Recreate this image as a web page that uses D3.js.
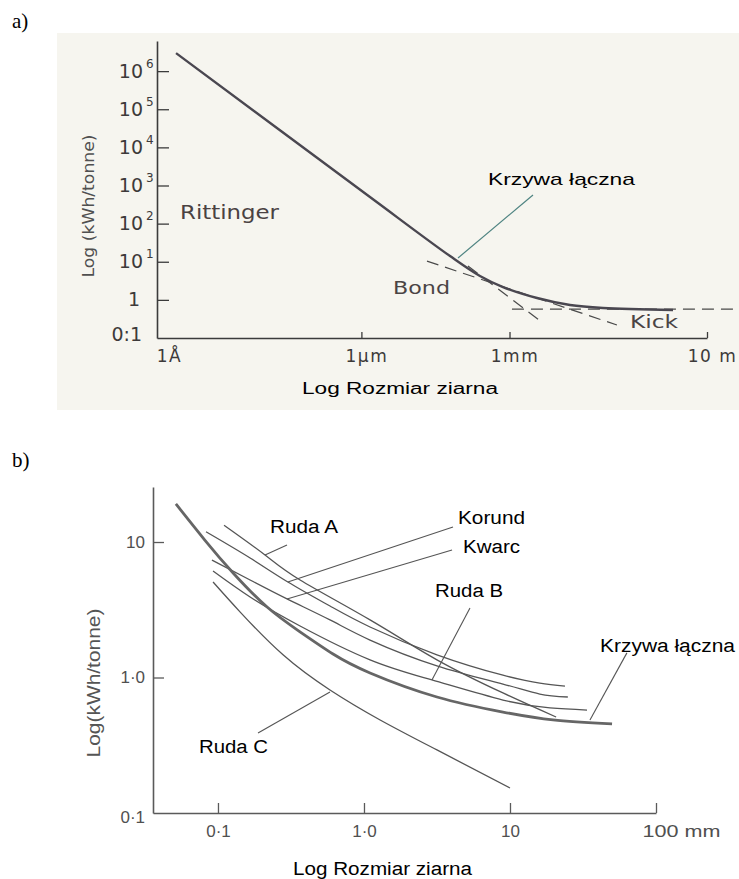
<!DOCTYPE html>
<html>
<head>
<meta charset="utf-8">
<script src="https://cdn.jsdelivr.net/npm/d3@7"></script>
<style>
  body { margin: 0; background: #fff; }
  svg { display: block; }
</style>
</head>
<body>
<svg id="chart" width="739" height="879"></svg>
<script>
// ---- panel a: grinding energy vs grain size (metres), log-log ----
var sizeA   = [1.76e-10, 1.49e-6, 6.24e-5, 2.52e-4, 7.38e-4, 3.61e-3, 1.68e-2, 7.83e-2, 2.05];
var energyA = [2.97e6, 498, 14.1, 4.23, 2.17, 1.12, 0.733, 0.612, 0.542];
var rittingerSize = [1.44e-4, 4.78e-3], rittingerEnergy = [7.73, 0.247];
var bondSize      = [2.13e-5, 0.150],   bondEnergy      = [10.4, 0.219];
var kickSize      = [1.12e-3, 44.6],    kickEnergy      = [0.575, 0.575];
var xTicksA = [1e-10, 1e-6, 1e-3, 10];
var xLabelsA = ["1Å", "1μm", "1mm", "10 m"];
var yTicksA = [0.1, 1, 10, 1e2, 1e3, 1e4, 1e5, 1e6];
var yBaseA = ["0:1", "1", "10", "10", "10", "10", "10", "10"];
var yExpA  = ["", "", "1", "2", "3", "4", "5", "6"];

// ---- panel b: grindability curves (mm) ----
var xTicksB = [0.1, 1, 10, 100];
var xLabelsB = ["0·1", "1·0", "10", "100 mm"];
var yTicksB = [0.1, 1, 10];
var yLabelsB = ["0·1", "1·0", "10"];
var lacznaSize   = [0.0515, 0.0815, 0.127, 0.217, 0.365, 0.614, 1.10, 3.16, 8.95, 19.7, 50.0];
var lacznaEnergy = [19.1, 10.3, 5.91, 3.31, 2.17, 1.49, 1.08, 0.718, 0.556, 0.486, 0.454];
var rudaASize    = [0.110, 0.210, 0.365, 1.10, 3.16, 8.95, 20.7];
var rudaAEnergy  = [13.3, 8.02, 5.24, 2.66, 1.35, 0.769, 0.511];
var korundSize   = [0.0828, 0.166, 0.301, 0.585, 1.10, 3.16, 8.95, 16.0, 23.8];
var korundEnergy = [11.9, 7.62, 5.07, 3.37, 2.36, 1.47, 1.04, 0.910, 0.865];
var kwarcSize    = [0.091, 0.166, 0.297, 0.585, 1.10, 3.16, 8.95, 16.0, 24.9];
var kwarcEnergy  = [7.36, 5.24, 3.80, 2.66, 1.89, 1.22, 0.895, 0.755, 0.718];
var rudaBSize    = [0.0925, 0.166, 0.365, 1.10, 2.92, 8.95, 18.8, 33.7];
var rudaBEnergy  = [6.11, 3.93, 2.40, 1.35, 0.959, 0.682, 0.596, 0.575];
var rudaCSize    = [0.0925, 0.142, 0.279, 0.585, 1.29, 3.16, 10.0];
var rudaCEnergy  = [5.07, 3.04, 1.47, 0.809, 0.486, 0.292, 0.153];

var svg = d3.select("#chart");
var sans = "'Liberation Sans', Arial, sans-serif";
var wide = "'DejaVu Sans', sans-serif";
var serif = "'Liberation Serif', 'Times New Roman', serif";

function label(x, y, txt, opts) {
  var t = svg.append("text")
    .attr("x", x).attr("y", y)
    .attr("font-family", opts.font || sans)
    .attr("font-size", opts.size || 18)
    .attr("fill", opts.fill || "#000")
    .text(txt);
  if (opts.len) t.attr("textLength", opts.len).attr("lengthAdjust", "spacingAndGlyphs");
  if (opts.rotate) t.attr("x", null).attr("y", null).attr("text-anchor", "middle")
    .attr("transform", "translate(" + x + "," + y + ") rotate(-90)");
  return t;
}

// ===================== panel a =====================
label(12, 28, "a)", { font: serif, size: 21 });

svg.append("rect")
  .attr("x", 57).attr("y", 33).attr("width", 682).attr("height", 377)
  .attr("fill", "#f6f5ef");

var xA = d3.scaleLog().domain([Math.pow(10, -10.14), 10]).range([157, 707]);
var yA = d3.scaleLog().domain([0.1, Math.pow(10, 6.79)]).range([338, 41]);

var axA = svg.append("g")
  .attr("transform", "translate(0,338)")
  .call(d3.axisBottom(xA).tickValues(xTicksA).tickSizeInner(-6).tickSizeOuter(0)
    .tickPadding(12).tickFormat(function(d, i) { return xLabelsA[i]; }));
axA.selectAll(".tick").filter(function(d, i) { return i === 0; }).select("line").remove();
axA.selectAll("text").attr("dx", 5).attr("font-family", wide).attr("font-size", 17)
  .attr("letter-spacing", 1.5).attr("fill", "#3d3a3a");

var ayA = svg.append("g")
  .attr("transform", "translate(157,0)")
  .call(d3.axisLeft(yA).tickValues(yTicksA).tickSizeInner(-12).tickSizeOuter(0).tickFormat(""));
ayA.selectAll(".tick").filter(function(d, i) { return i === 0; }).select("line").remove();
ayA.selectAll(".tick").each(function(d, i) {
  var g = d3.select(this);
  g.append("text")
    .attr("x", yExpA[i] ? -14 : (i === 0 ? -15 : -17))
    .attr("y", i === 0 ? 2 : 6)
    .attr("text-anchor", "end")
    .attr("font-family", wide).attr("font-size", 19)
    .attr("fill", "#3d3a3a")
    .text(yBaseA[i]);
  if (yExpA[i]) {
    g.append("text")
      .attr("x", -11).attr("y", -4)
      .attr("text-anchor", "start")
      .attr("font-family", wide).attr("font-size", 12)
      .attr("fill", "#3d3a3a")
      .text(yExpA[i]);
  }
});
[axA, ayA].forEach(function(a) {
  a.select(".domain").attr("stroke", "#3b3b3b").attr("stroke-width", 1.6);
  a.selectAll(".tick line").attr("stroke", "#3b3b3b").attr("stroke-width", 1.3);
});

var lineA = d3.line()
  .x(function(d) { return xA(d[0]); })
  .y(function(d) { return yA(d[1]); })
  .curve(d3.curveCatmullRom.alpha(0.5));

[[rittingerSize, rittingerEnergy], [bondSize, bondEnergy], [kickSize, kickEnergy]].forEach(function(s) {
  svg.append("path")
    .datum(d3.zip(s[0], s[1]))
    .attr("d", lineA)
    .attr("fill", "none")
    .attr("stroke", "#4a4a4a")
    .attr("stroke-width", 1.2)
    .attr("stroke-dasharray", "12,7");
});

svg.append("path")
  .datum(d3.zip(sizeA, energyA))
  .attr("d", lineA)
  .attr("fill", "none")
  .attr("stroke", "#4a4750")
  .attr("stroke-width", 2.4);

// leader for the combined curve
svg.append("line")
  .attr("x1", 533).attr("y1", 195).attr("x2", 458).attr("y2", 258)
  .attr("stroke", "#4f8482").attr("stroke-width", 1.2);

label(180, 219, "Rittinger", { font: wide, size: 19, fill: "#4a4242", len: 99 });
label(393, 294, "Bond", { font: wide, size: 18, fill: "#4a4444", len: 57 });
label(630, 328, "Kick", { font: wide, size: 18, fill: "#4a4444", len: 48 });
label(488, 185, "Krzywa łączna", { size: 17, len: 147 });
label(302, 394, "Log Rozmiar ziarna", { size: 16, len: 196 });
label(94, 206, "Log (kWh/tonne)", { font: wide, size: 16, fill: "#505050", len: 143, rotate: true });

// ===================== panel b =====================
label(12, 467, "b)", { font: serif, size: 21 });

var xB = d3.scaleLog().domain([Math.pow(10, -1.445), 100]).range([153, 656]);
var yB = d3.scaleLog().domain([0.1, Math.pow(10, 1.406)]).range([813, 487]);

var axB = svg.append("g")
  .attr("transform", "translate(0,813)")
  .call(d3.axisBottom(xB).tickValues(xTicksB).tickSizeInner(-10).tickSizeOuter(0)
    .tickPadding(12).tickFormat(function(d, i) { return xLabelsB[i]; }));
axB.selectAll("text").attr("font-family", sans).attr("font-size", 17).attr("fill", "#505050");
axB.selectAll(".tick text").filter(function(d, i) { return i === 3; })
  .attr("text-anchor", "start").attr("x", -14).attr("textLength", 78)
  .attr("lengthAdjust", "spacingAndGlyphs");

var ayB = svg.append("g")
  .attr("transform", "translate(153,0)")
  .call(d3.axisLeft(yB).tickValues(yTicksB).tickSizeInner(-11).tickSizeOuter(0)
    .tickPadding(8).tickFormat(function(d, i) { return yLabelsB[i]; }));
ayB.selectAll(".tick").filter(function(d, i) { return i === 0; }).select("line").remove();
ayB.selectAll("text").attr("font-family", sans).attr("font-size", 17).attr("fill", "#505050");
ayB.selectAll(".tick text").filter(function(d, i) { return i === 0; }).attr("dy", "0.55em");
[axB, ayB].forEach(function(a) {
  a.select(".domain").attr("stroke", "#5a5a5a").attr("stroke-width", 1.6);
  a.selectAll(".tick line").attr("stroke", "#5a5a5a").attr("stroke-width", 1.3);
});

var lineB = d3.line()
  .x(function(d) { return xB(d[0]); })
  .y(function(d) { return yB(d[1]); })
  .curve(d3.curveNatural);

[[rudaASize, rudaAEnergy], [korundSize, korundEnergy], [kwarcSize, kwarcEnergy],
 [rudaBSize, rudaBEnergy], [rudaCSize, rudaCEnergy]].forEach(function(s) {
  svg.append("path")
    .datum(d3.zip(s[0], s[1]))
    .attr("d", lineB)
    .attr("fill", "none")
    .attr("stroke", "#555")
    .attr("stroke-width", 1.3);
});
svg.append("path")
  .datum(d3.zip(lacznaSize, lacznaEnergy))
  .attr("d", lineB)
  .attr("fill", "none")
  .attr("stroke", "#666")
  .attr("stroke-width", 2.8);

// leader lines, in data units
var leadersB = [
  [[0.297, 9.51], [0.210, 8.02]],
  [[4.07, 12.9], [0.301, 5.07]],
  [[4.01, 8.73], [0.297, 3.80]],
  [[5.32, 3.26], [2.92, 0.959]],
  [[63.2, 1.52], [35.3, 0.486]],
  [[0.188, 0.389], [0.585, 0.782]]
];
leadersB.forEach(function(l) {
  svg.append("line")
    .attr("x1", xB(l[0][0])).attr("y1", yB(l[0][1]))
    .attr("x2", xB(l[1][0])).attr("y2", yB(l[1][1]))
    .attr("stroke", "#555").attr("stroke-width", 1.1);
});

label(270, 533, "Ruda A", { len: 68 });
label(458, 524, "Korund", { len: 67 });
label(463, 553, "Kwarc", { len: 57 });
label(435, 597, "Ruda B", { len: 68 });
label(600, 652, "Krzywa łączna", { len: 135 });
label(199, 753, "Ruda C", { len: 69 });
label(293, 875, "Log Rozmiar ziarna", { len: 179 });
label(100, 683, "Log(kWh/tonne)", { fill: "#555", len: 149, rotate: true });
</script>
</body>
</html>
